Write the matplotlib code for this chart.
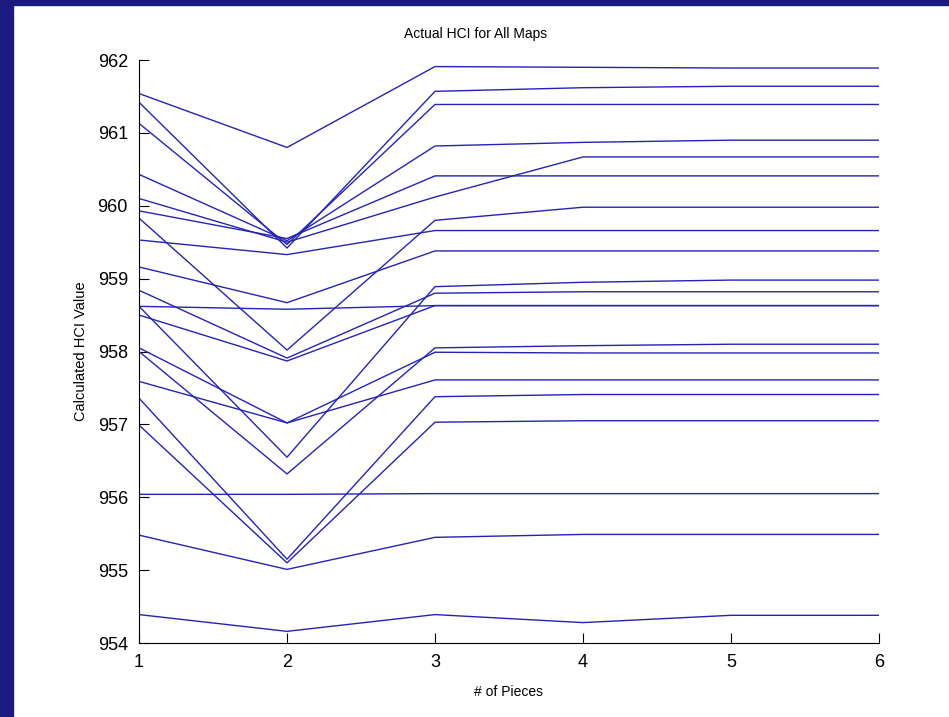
import matplotlib
matplotlib.use('Agg')
import matplotlib.pyplot as plt
from matplotlib.patches import Rectangle

pieces = [1, 2, 3, 4, 5, 6]

# HCI per map, one list per map (values at 1..6 pieces)
map_a = [961.54, 960.80, 961.91, 961.90, 961.89, 961.89]
map_b = [961.42, 959.42, 961.57, 961.62, 961.64, 961.64]
map_c = [961.13, 959.47, 961.39, 961.39, 961.39, 961.39]
map_d = [960.43, 959.52, 960.82, 960.87, 960.90, 960.90]
map_e = [960.10, 959.50, 960.12, 960.67, 960.67, 960.67]
map_f = [959.93, 959.55, 960.41, 960.41, 960.41, 960.41]
map_g = [959.83, 958.02, 959.80, 959.98, 959.98, 959.98]
map_h = [959.53, 959.33, 959.66, 959.66, 959.66, 959.66]
map_i = [959.16, 958.67, 959.38, 959.38, 959.38, 959.38]
map_j = [958.84, 957.91, 958.80, 958.82, 958.82, 958.82]
map_k = [958.62, 958.58, 958.63, 958.63, 958.63, 958.63]
map_l = [958.62, 956.55, 958.89, 958.95, 958.98, 958.98]
map_m = [958.50, 957.87, 958.63, 958.63, 958.63, 958.63]
map_n = [958.05, 957.02, 957.99, 957.98, 957.98, 957.98]
map_o = [958.00, 956.32, 958.05, 958.08, 958.10, 958.10]
map_p = [957.59, 957.02, 957.61, 957.61, 957.61, 957.61]
map_q = [957.36, 955.15, 957.38, 957.41, 957.41, 957.41]
map_r = [956.99, 955.10, 957.03, 957.05, 957.05, 957.05]
map_s = [956.04, 956.04, 956.05, 956.05, 956.05, 956.05]
map_t = [955.48, 955.01, 955.45, 955.49, 955.49, 955.49]
map_u = [954.39, 954.16, 954.39, 954.28, 954.38, 954.38]

maps = [map_a, map_b, map_c, map_d, map_e, map_f, map_g, map_h, map_i, map_j, map_k,
        map_l, map_m, map_n, map_o, map_p, map_q, map_r, map_s, map_t, map_u]

plt.rcParams['font.family'] = ['Liberation Sans', 'DejaVu Sans']

fig = plt.figure(figsize=(9.49, 7.17), dpi=100, facecolor='white')
# navy slide border on the left and top
fig.patches.append(Rectangle((0, 0), 13 / 949, 1, transform=fig.transFigure,
                             color='#1b1a80', zorder=0))
fig.patches.append(Rectangle((0, 1 - 5 / 717), 1, 5 / 717, transform=fig.transFigure,
                             color='#1b1a80', zorder=0))

ax = fig.add_axes([0.1465, 0.1032, 0.7797, 0.8131])
for m in maps:
    ax.plot(pieces, m, color='#2424b4', linewidth=1.0)

ax.set_xlim(1, 6)
ax.set_ylim(954, 962)
ax.set_xticks(pieces)
ax.set_yticks(range(954, 963))
ax.spines['top'].set_visible(False)
ax.spines['right'].set_visible(False)
ax.tick_params(direction='in', length=7, labelsize=13, pad=8)
ax.set_title('Actual HCI for All Maps', fontsize=10, pad=16, x=0.455)
ax.set_xlabel('# of Pieces', fontsize=10, labelpad=10)
ax.set_ylabel('Calculated HCI Value', fontsize=10.5, labelpad=7)

fig.savefig('out.png', dpi=100, facecolor=fig.get_facecolor())
